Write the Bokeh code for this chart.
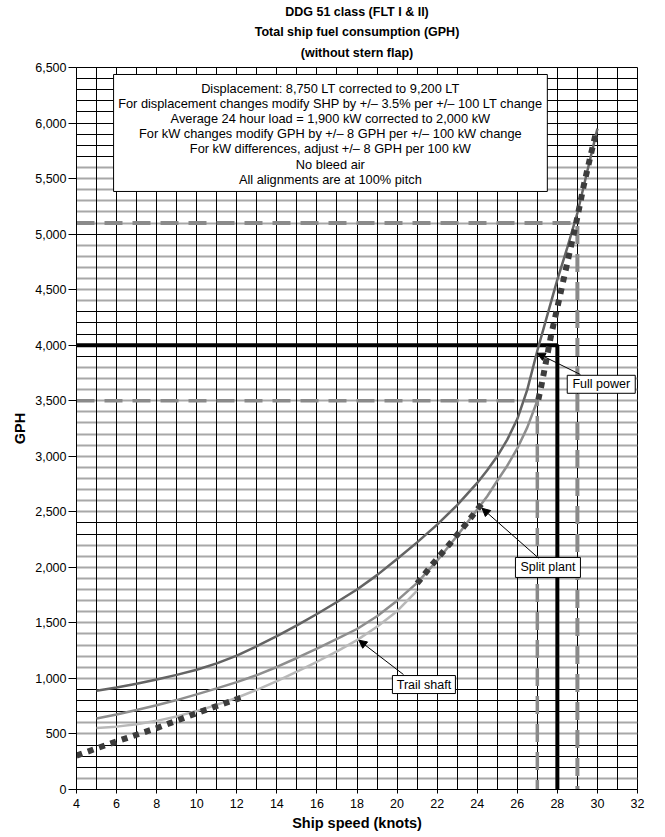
from bokeh.plotting import figure
from bokeh.models import Range1d, FixedTicker, Grid, NumeralTickFormatter, Arrow, NormalHead, Title
from bokeh.core.properties import value
from bokeh.embed import file_html
from bokeh.resources import INLINE

# ---------------- data ----------------
title_lines = ["DDG 51 class (FLT I & II)",
               "Total ship fuel consumption (GPH)",
               "(without stern flap)"]
x_label = "Ship speed (knots)"
y_label = "GPH"
x_ticks = list(range(4, 33, 2))
y_ticks = list(range(0, 6501, 500))

notes = ["Displacement: 8,750 LT corrected to 9,200 LT",
         "For displacement changes modify SHP by +/\u2013 3.5% per +/\u2013 100 LT change",
         "Average 24 hour load = 1,900 kW corrected to 2,000 kW",
         "For kW changes modify GPH by +/\u2013 8 GPH per +/\u2013 100 kW change",
         "For kW differences, adjust +/\u2013 8 GPH per 100 kW",
         "No bleed air",
         "All alignments are at 100% pitch"]

# Full power curve
full_speed = [5, 6, 7, 8, 9, 10, 11, 12, 13, 14, 15, 16, 17, 18, 19, 20, 21, 22, 23, 24,
              24.5, 25, 25.5, 26, 26.5, 27, 27.5, 28, 28.5, 29, 29.5, 30]
full_gph = [890, 918, 952, 990, 1032, 1078, 1135, 1205, 1290, 1380, 1478, 1580, 1688,
            1800, 1930, 2075, 2225, 2385, 2560, 2760, 2875, 3000, 3150, 3335, 3600,
            3950, 4270, 4590, 4880, 5190, 5570, 5950]

# Split plant curve
split_speed = [5, 6, 7, 8, 9, 10, 11, 12, 13, 14, 15, 16, 17, 18, 19, 20, 21, 22, 23,
               24, 24.5, 25, 25.5, 26, 26.5, 27]
split_gph = [640, 676, 716, 758, 805, 856, 910, 967, 1030, 1103, 1184, 1268, 1355, 1445,
             1560, 1700, 1860, 2060, 2285, 2520, 2640, 2780, 2915, 3070, 3260, 3500]

# Trail shaft curve
trail_speed = [5, 6, 7, 8, 9, 10, 11, 12, 13, 14, 15, 16, 17, 18, 19, 20, 21]
trail_gph = [553, 566, 587, 618, 658, 706, 762, 826, 897, 976, 1062, 1150, 1244, 1345,
             1465, 1605, 1790]

# Optimum (dotted) envelope segments
env_a_speed = [4, 5, 6, 7, 8, 9, 10, 11, 12.2]
env_a_gph = [305, 370, 433, 493, 553, 620, 688, 752, 825]
env_b_speed = [21.0, 21.8, 22.7, 23.5, 24.3]
env_b_gph = [1855, 2035, 2226, 2404, 2590]
env_c_speed = [27.05, 27.2, 27.7, 28.0, 28.68, 28.95, 29.32, 29.65, 29.95]
env_c_gph = [3510, 3633, 4100, 4340, 4890, 5110, 5440, 5700, 5930]

# Reference lines
full_ref_speed, full_ref_gph = 28, 4000
split_ref_speed, split_ref_gph = 27, 3500
max_ref_speed, max_ref_gph = 29, 5100

# Grid rows (GPH) drawn black / gray
black_rows = [200, 300, 400, 700, 800, 900, 2300, 2400, 3900, 4000, 4100, 4200, 4300,
              5000, 5700, 5800, 5900, 6000, 6100, 6200, 6300, 6400]
gray_rows = [100, 500, 600] + list(range(1000, 2201, 100)) + list(range(2500, 3801, 100)) \
            + list(range(4400, 4901, 100)) + list(range(5100, 5601, 100))
grid_cols = list(range(4, 33))

callouts = ["Full power", "Split plant", "Trail shaft"]

# ---------------- figure ----------------
FONT = "Liberation Sans"
X0, X1, Y0, Y1 = 4, 32, 0, 6500

p = figure(frame_width=561, frame_height=722, output_backend="svg", title=None,
           toolbar_location=None, x_range=Range1d(X0, X1), y_range=Range1d(Y0, Y1),
           min_border_left=76, min_border_right=12, min_border_top=66,
           min_border_bottom=43)
p.background_fill_color = "white"
p.border_fill_color = "white"
p.outline_line_color = "black"
p.outline_line_width = 1

# titles (first added sits closest to the frame)
title_standoff = [11, 4, 4]
for i, t in enumerate(reversed(title_lines)):
    p.add_layout(Title(text=t, align="center", text_font=FONT,
                       text_font_style="bold", text_font_size="12.5px", text_color="black",
                       standoff=title_standoff[i],
                       vertical_align=("top" if i == 0 else "bottom")), "above")

# grids
p.xgrid.ticker = FixedTicker(ticks=grid_cols)
p.xgrid.grid_line_color = "black"
p.xgrid.grid_line_width = 1
p.ygrid.ticker = FixedTicker(ticks=black_rows)
p.ygrid.grid_line_color = "black"
p.ygrid.grid_line_width = 1
gray_grid = Grid(dimension=1, ticker=FixedTicker(ticks=gray_rows),
                 grid_line_color="#a8a8a8", grid_line_width=2)
p.center = [gray_grid] + list(p.center)

# axes
for ax in (p.xaxis[0], p.yaxis[0]):
    ax.axis_line_color = "black"
    ax.major_tick_line_color = "black"
    ax.minor_tick_line_color = None
    ax.major_tick_in = 0
    ax.major_label_text_font = FONT
    ax.major_label_text_font_size = "12.5px"
    ax.major_label_text_color = "black"
    ax.axis_label_text_font = FONT
    ax.axis_label_text_font_style = "bold"
    ax.axis_label_text_font_size = "14.5px"
    ax.axis_label_text_color = "black"
p.xaxis.ticker = FixedTicker(ticks=x_ticks)
p.yaxis.ticker = FixedTicker(ticks=y_ticks)
p.yaxis.formatter = NumeralTickFormatter(format="0,0")
p.xaxis.axis_label = x_label
p.yaxis.axis_label = y_label
p.xaxis.major_tick_out = 4
p.xaxis.major_label_standoff = 5
p.xaxis.axis_label_standoff = 4
p.yaxis.major_tick_out = 8
p.yaxis.major_label_standoff = 2
p.yaxis.axis_label_standoff = 4

# reference lines
p.line([X0, max_ref_speed, max_ref_speed], [max_ref_gph, max_ref_gph, Y0],
       line_color="#8a8a8a", line_width=4, line_dash="18 10")
p.line([X0, split_ref_speed, split_ref_speed], [split_ref_gph, split_ref_gph, Y0],
       line_color="#8a8a8a", line_width=3.5, line_dash="18 10")
p.line([X0, full_ref_speed, full_ref_speed], [full_ref_gph, full_ref_gph, Y0],
       line_color="black", line_width=4)

# curves
p.line(trail_speed, trail_gph, line_color="#b9b9b9", line_width=2.5)
p.line(split_speed, split_gph, line_color="#8e8e8e", line_width=2.5)
p.line(full_speed, full_gph, line_color="#646464", line_width=2.5)
for xs, ys in ((env_a_speed, env_a_gph), (env_b_speed, env_b_gph), (env_c_speed, env_c_gph)):
    p.line(xs, ys, line_color="#3c3c3c", line_width=6, line_dash="6 6", line_cap="butt")

# notes box
p.quad(left=5.85, right=27.5, top=6437, bottom=5384, fill_color="white",
       line_color="black", line_width=1)
note_y = [6311 - i * 136 for i in range(len(notes))]
p.text(x=[16.67] * len(notes), y=note_y, text=notes, text_align="center",
       text_baseline="middle", text_font=value(FONT), text_font_size="12.8px",
       text_color="black")

# arrows
arrow_specs = [(29.15, 3736, 26.99, 3928), (27.07, 2082, 24.24, 2532), (20.32, 1035, 18.09, 1344)]
for xs, ys, xe, ye in arrow_specs:
    p.add_layout(Arrow(end=NormalHead(size=8, fill_color="black", line_color="black"),
                       x_start=xs, y_start=ys, x_end=xe, y_end=ye,
                       line_color="black", line_width=1))

# callout boxes
box_x = [30.19, 27.53, 21.34]
box_y = [3648, 1999, 945]
box_w = [68, 65, 63]
box_h = [18, 20, 18]
p.rect(x=box_x, y=box_y, width=box_w, height=box_h, width_units="screen",
       height_units="screen", fill_color="white", line_color="black", line_width=1)
p.text(x=box_x, y=box_y, text=callouts, text_align="center", text_baseline="middle",
       text_font=value(FONT), text_font_size="12.5px", text_color="black")

open("out.html", "w").write(file_html(p, INLINE))
